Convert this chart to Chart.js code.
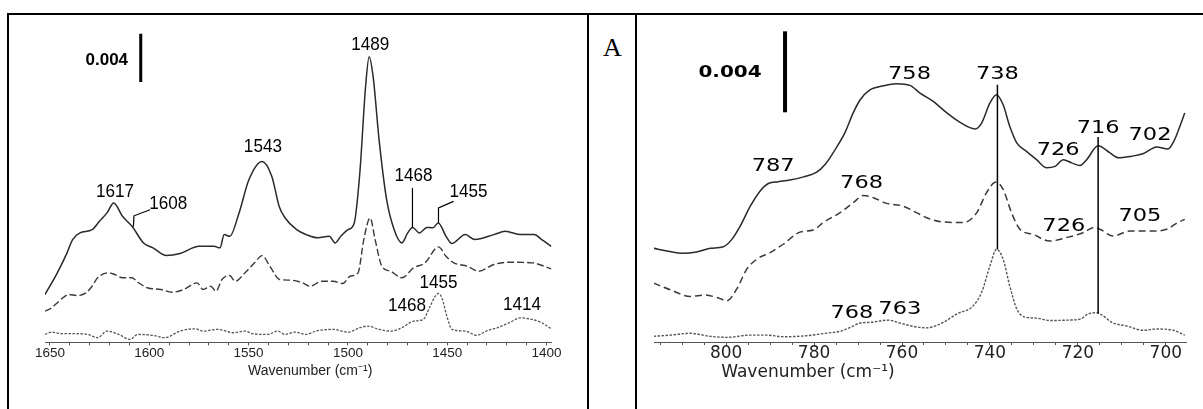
<!DOCTYPE html>
<html>
<head>
<meta charset="utf-8">
<script src="https://cdn.jsdelivr.net/npm/chart.js@4.4.0/dist/chart.umd.min.js"></script>
<style>
  body { margin: 0; background: #fff; width: 1203px; height: 409px; overflow: hidden; position: relative; }
  .rule { position: absolute; background: #000; }
  #left { position: absolute; left: 9px; top: 15px; }
  #right { position: absolute; left: 637px; top: 15px; }
  #tag { position: absolute; left: 603px; top: 35px; font: 26px/26px "Liberation Serif", serif; color: #000; }
</style>
</head>
<body>
<div class="rule" style="left:7px;top:13px;width:1196px;height:2px"></div>
<div class="rule" style="left:7px;top:13px;width:2px;height:396px"></div>
<div class="rule" style="left:587px;top:13px;width:2px;height:396px"></div>
<div class="rule" style="left:635px;top:13px;width:2px;height:396px"></div>
<div id="tag">A</div>
<canvas id="left" width="578" height="394"></canvas>
<canvas id="right" width="566" height="394"></canvas>

<script>
// absorbance values are in units of 0.001 (the "0.004" bar is 4 units long)

// left panel, 1650-1400 cm-1
const leftTopWn = [1652.5, 1646.3, 1641.4, 1638.6, 1634.9, 1628.8, 1625.1, 1621.3, 1617.9, 1613.5, 1608.7, 1602.9, 1598.1, 1591.3, 1584.5, 1574.9, 1567.4, 1564.4, 1562.3, 1559.5, 1554.8, 1549.8, 1543.2, 1538.3, 1534.6, 1531.6, 1525.8, 1521.0, 1515.2, 1509.4, 1506.4, 1503.6, 1499.9, 1496.8, 1494.0, 1491.1, 1489.3, 1487.3, 1484.3, 1480.5, 1476.7, 1472.8, 1469.9, 1467.4, 1464.1, 1460.2, 1457.3, 1454.5, 1450.6, 1447.7, 1440.9, 1436.1, 1426.5, 1420.8, 1413.0, 1406.2, 1402.4, 1397.6];
const leftTopAbs = [3.97, 5.77, 7.43, 8.53, 9.08, 9.35, 10.04, 10.74, 11.56, 10.46, 9.63, 8.25, 7.84, 7.20, 7.37, 7.97, 7.97, 7.84, 8.94, 8.80, 10.74, 13.51, 15.01, 13.77, 11.28, 10.32, 9.35, 8.94, 8.67, 8.80, 8.25, 8.80, 9.35, 9.91, 14.05, 21.22, 23.70, 22.04, 16.80, 11.84, 9.35, 8.25, 9.08, 9.54, 9.08, 9.54, 9.50, 9.91, 8.80, 8.20, 8.94, 8.53, 8.94, 9.21, 8.94, 8.94, 8.53, 7.97];

const leftMidWn = [1652.5, 1649.1, 1646.3, 1643.5, 1640.4, 1636.6, 1631.9, 1628.8, 1626.0, 1620.3, 1617.4, 1613.5, 1608.7, 1605.8, 1601.0, 1594.2, 1588.5, 1582.6, 1575.9, 1573.0, 1569.1, 1566.4, 1563.4, 1559.5, 1556.8, 1551.8, 1547.0, 1543.2, 1539.3, 1534.4, 1528.7, 1522.9, 1519.0, 1513.2, 1507.4, 1502.6, 1498.9, 1494.9, 1492.0, 1488.8, 1486.3, 1482.9, 1478.5, 1472.8, 1467.0, 1461.2, 1454.4, 1450.6, 1446.7, 1439.9, 1434.2, 1426.5, 1418.8, 1407.2, 1397.6];
const leftMidAbs = [2.59, 2.87, 3.29, 3.70, 3.97, 3.89, 4.11, 4.66, 5.36, 5.77, 5.63, 5.36, 5.36, 4.99, 4.53, 4.39, 4.16, 4.39, 4.94, 4.39, 4.66, 4.25, 5.22, 5.55, 5.07, 5.77, 6.60, 7.20, 6.32, 5.22, 5.16, 4.94, 4.66, 5.07, 5.07, 4.88, 5.49, 5.77, 8.53, 10.32, 8.53, 6.32, 5.90, 5.36, 6.18, 6.60, 7.92, 7.14, 6.60, 6.32, 5.90, 6.46, 6.65, 6.60, 6.10];

const leftLowWn = [1652.5, 1649.1, 1644.5, 1636.6, 1630.9, 1626.0, 1621.3, 1615.4, 1609.7, 1605.8, 1598.1, 1592.3, 1584.5, 1577.0, 1573.0, 1565.4, 1557.6, 1551.8, 1547.9, 1540.2, 1535.4, 1531.6, 1526.7, 1521.0, 1516.1, 1507.4, 1499.9, 1494.0, 1490.1, 1484.3, 1478.5, 1472.8, 1467.0, 1462.1, 1458.6, 1456.0, 1454.4, 1452.7, 1450.2, 1447.6, 1440.9, 1435.1, 1430.4, 1424.6, 1418.8, 1413.0, 1407.2, 1402.4, 1397.6];
const leftLowAbs = [0.66, 0.85, 0.72, 0.72, 0.66, 0.39, 0.94, 0.66, 0.25, 0.66, 0.58, 0.39, 0.94, 1.13, 0.94, 1.08, 0.80, 0.94, 0.72, 0.66, 0.94, 0.66, 0.85, 0.66, 0.94, 1.08, 0.85, 1.22, 1.35, 1.08, 0.94, 1.22, 1.76, 1.90, 3.00, 3.83, 4.06, 3.70, 2.18, 1.08, 0.94, 0.58, 0.94, 1.22, 1.63, 2.04, 1.90, 1.63, 1.13];

const leftPeakLabels = [
  ['1617', 1617.3, 12.5], ['1608', 1590.4, 11.5], ['1543', 1542.8, 16.25],
  ['1489', 1488.8, 24.7], ['1468', 1467.0, 13.8], ['1455', 1439.3, 12.5],
  ['1455', 1454.4, 4.94], ['1468', 1470.3, 3.0], ['1414', 1412.4, 3.15]
];
const leftLeaders = [
  [[1608.0, 9.6], [1607.7, 10.5], [1599.6, 11.0]],
  [[1467.5, 9.5], [1467.5, 12.8]],
  [[1454.4, 9.9], [1454.4, 11.15], [1446.8, 11.7]]
];
const leftBar = { wn: 1604.3, from: 21.6, size: 4, label: '0.004', labelWn: 1621.4, labelAbs: 23.4 };

// right panel, 800-700 cm-1
const rightTopWn = [816.5, 813.5, 809.7, 806.7, 803.6, 800.6, 798.7, 796.8, 794.5, 792.3, 790.4, 788.1, 785.5, 782.4, 779.4, 777.5, 775.2, 773.0, 771.1, 769.5, 767.3, 764.2, 761.2, 758.2, 755.9, 752.9, 749.8, 746.8, 743.4, 741.9, 740.0, 738.5, 737.0, 735.5, 733.9, 731.7, 729.4, 727.1, 725.2, 723.3, 721.4, 719.5, 718.0, 715.4, 712.7, 710.8, 707.8, 705.2, 702.1, 699.5, 698.0, 696.8, 695.7];
const rightTopAbs = [4.63, 4.50, 4.38, 4.45, 4.63, 4.71, 5.07, 5.73, 6.71, 7.45, 7.83, 7.92, 8.00, 8.16, 8.39, 8.77, 9.51, 10.33, 11.32, 11.97, 12.46, 12.66, 12.76, 12.68, 12.30, 11.89, 11.32, 10.85, 10.53, 10.82, 11.81, 12.22, 11.72, 10.66, 9.84, 9.42, 9.01, 8.61, 8.68, 9.01, 8.85, 8.72, 9.01, 9.70, 9.34, 9.10, 9.18, 9.30, 9.64, 9.54, 10.00, 10.66, 11.32];

const rightMidWn = [816.5, 812.7, 808.2, 804.8, 802.1, 799.8, 797.6, 795.3, 793.0, 790.0, 787.0, 783.2, 780.2, 777.9, 774.1, 771.1, 768.8, 766.5, 763.5, 759.7, 756.7, 754.4, 750.6, 746.1, 743.0, 740.8, 738.6, 737.0, 735.1, 733.2, 730.2, 726.4, 722.6, 718.8, 716.5, 715.0, 712.0, 708.2, 703.6, 699.8, 697.6, 695.7];
const rightMidAbs = [2.91, 2.58, 2.25, 2.32, 2.20, 2.04, 2.61, 3.60, 4.09, 4.42, 4.83, 5.43, 5.53, 5.90, 6.39, 6.88, 7.24, 7.13, 6.85, 6.71, 6.39, 6.14, 5.93, 5.90, 6.39, 7.37, 7.90, 7.54, 6.39, 5.57, 5.32, 4.99, 5.16, 5.40, 5.65, 5.57, 5.24, 5.48, 5.48, 5.57, 5.86, 6.06];

const rightLowWn = [816.5, 812.7, 808.2, 803.6, 799.8, 794.5, 790.8, 787.0, 781.7, 777.1, 774.1, 771.8, 769.5, 767.3, 763.1, 760.5, 757.4, 754.4, 750.6, 747.6, 743.8, 741.9, 740.0, 738.5, 737.0, 735.5, 733.9, 732.0, 729.4, 726.4, 722.6, 719.5, 717.7, 715.8, 714.3, 712.3, 708.9, 705.2, 702.1, 698.3, 695.7];
const rightLowAbs = [0.28, 0.34, 0.43, 0.28, 0.23, 0.34, 0.34, 0.26, 0.31, 0.44, 0.53, 0.72, 0.94, 0.97, 1.08, 0.94, 0.77, 0.70, 0.97, 1.38, 1.79, 2.45, 3.76, 4.58, 4.09, 2.77, 1.63, 1.23, 1.18, 1.06, 1.08, 1.13, 1.38, 1.45, 1.30, 0.97, 0.79, 0.58, 0.64, 0.58, 0.34];

const rightPeakLabels = [
  ['758', 758.3, 13.25], ['738', 738.3, 13.25], ['787', 789.3, 8.66],
  ['768', 769.2, 7.83], ['726', 724.5, 9.47], ['716', 715.4, 10.58],
  ['702', 703.6, 10.2], ['726', 723.2, 5.73], ['705', 705.9, 6.22],
  ['768', 771.4, 1.43], ['763', 760.5, 1.63]
];
const rightLeaders = [
  [[738.3, 12.71], [738.3, 4.58]],
  [[715.4, 10.13], [715.4, 1.40]]
];
const rightBar = { wn: 786.6, from: 11.35, size: 4, label: '0.004', labelWn: 799.1, labelAbs: 13.3 };

const axisTitle = 'Wavenumber (cm⁻¹)';

const pairs = (xs, ys) => xs.map((x, i) => ({ x: x, y: ys[i] }));

// peak numbers, leader lines, scale bar and axis title, placed through the chart's scales
const notes = {
  id: 'notes',
  afterDraw(chart, args, o) {
    const ctx = chart.ctx;
    const px = v => chart.scales.x.getPixelForValue(v);
    const py = v => chart.scales.y.getPixelForValue(v);
    const text = (s, x, y, font, stretch) => {
      ctx.save();
      ctx.translate(x, y);
      ctx.scale(stretch, 1);
      ctx.font = font;
      ctx.textAlign = 'center';
      ctx.textBaseline = 'middle';
      ctx.fillText(s, 0, 0);
      ctx.restore();
    };
    ctx.save();
    ctx.strokeStyle = '#000';
    ctx.fillStyle = '#000';
    ctx.lineWidth = o.leaderWidth;
    o.leaders.forEach(path => {
      ctx.beginPath();
      path.forEach(([w, a], i) => i ? ctx.lineTo(px(w), py(a)) : ctx.moveTo(px(w), py(a)));
      ctx.stroke();
    });
    ctx.lineWidth = o.barWidth;
    ctx.beginPath();
    ctx.moveTo(px(o.bar.wn), py(o.bar.from));
    ctx.lineTo(px(o.bar.wn), py(o.bar.from + o.bar.size));
    ctx.stroke();
    text(o.bar.label, px(o.bar.labelWn), py(o.bar.labelAbs), o.barFont, o.barStretch);
    o.labels.forEach(([s, w, a]) => text(s, px(w), py(a), o.labelFont, o.stretch));
    ctx.fillStyle = '#222';
    text(axisTitle, px(o.titleWn), chart.chartArea.bottom + o.titleGap, o.titleFont, 1);
    ctx.restore();
  }
};

function spectrumChart(id, o) {
  return new Chart(document.getElementById(id), {
    type: 'scatter',
    data: {
      datasets: o.series.map(s => ({
        data: pairs(s.wn, s.abs),
        showLine: true,
        borderColor: s.color,
        borderWidth: s.width,
        borderDash: s.dash,
        pointRadius: 0,
        cubicInterpolationMode: 'monotone'
      }))
    },
    options: {
      responsive: false,
      animation: false,
      layout: { padding: o.padding },
      plugins: { legend: { display: false }, tooltip: { enabled: false }, notes: o.notes },
      scales: {
        x: {
          type: 'linear',
          reverse: true,
          min: o.xmin,
          max: o.xmax,
          border: { display: true, color: '#555', width: 1 },
          grid: { drawOnChartArea: false, drawTicks: true, tickLength: 3, color: '#555' },
          ticks: {
            stepSize: o.step,
            includeBounds: false,
            autoSkip: false,
            maxRotation: 0,
            padding: 0,
            color: '#222',
            font: o.tickFont,
            callback: v => Math.abs(v / o.major - Math.round(v / o.major)) < 1e-6 ? String(Math.round(v)) : ''
          }
        },
        y: { display: false, min: 0, max: o.ymax }
      }
    },
    plugins: [notes]
  });
}

spectrumChart('left', {
  xmin: 1397.5, xmax: 1652.5, ymax: 26.74, step: 10, major: 50,
  padding: { left: 36, right: 35.5, top: 5, bottom: 47.4 },
  tickFont: { family: 'Liberation Sans', size: 13.5 },
  series: [
    { wn: leftTopWn, abs: leftTopAbs, color: '#2a2a2a', width: 1.5, dash: [] },
    { wn: leftMidWn, abs: leftMidAbs, color: '#3a3a3a', width: 1.4, dash: [7, 3] },
    { wn: leftLowWn, abs: leftLowAbs, color: '#555', width: 1.3, dash: [2.5, 1.5] }
  ],
  notes: {
    labels: leftPeakLabels, leaders: leftLeaders, bar: leftBar,
    labelFont: '19px "Liberation Sans"', barFont: 'bold 17px "Liberation Sans"',
    titleFont: '14px "Liberation Sans"', titleWn: 1519, titleGap: 29,
    stretch: 0.9, barStretch: 1, leaderWidth: 1.2, barWidth: 3
  }
});

spectrumChart('right', {
  xmin: 695.3, xmax: 816.4, ymax: 15.91, step: 5, major: 20,
  padding: { left: 17, right: 16.5, top: 5, bottom: 47 },
  tickFont: { family: 'DejaVu Sans', size: 17, lineHeight: 1 },
  series: [
    { wn: rightTopWn, abs: rightTopAbs, color: '#2a2a2a', width: 1.5, dash: [] },
    { wn: rightMidWn, abs: rightMidAbs, color: '#3a3a3a', width: 1.5, dash: [7, 4] },
    { wn: rightLowWn, abs: rightLowAbs, color: '#555', width: 1.4, dash: [2.5, 1.5] }
  ],
  notes: {
    labels: rightPeakLabels, leaders: rightLeaders, bar: rightBar,
    labelFont: '18px "DejaVu Sans"', barFont: 'bold 16px "DejaVu Sans"',
    titleFont: '17px "DejaVu Sans"', titleWn: 781.4, titleGap: 31,
    stretch: 1.25, barStretch: 1.25, leaderWidth: 1.5, barWidth: 4
  }
});
</script>
</body>
</html>
